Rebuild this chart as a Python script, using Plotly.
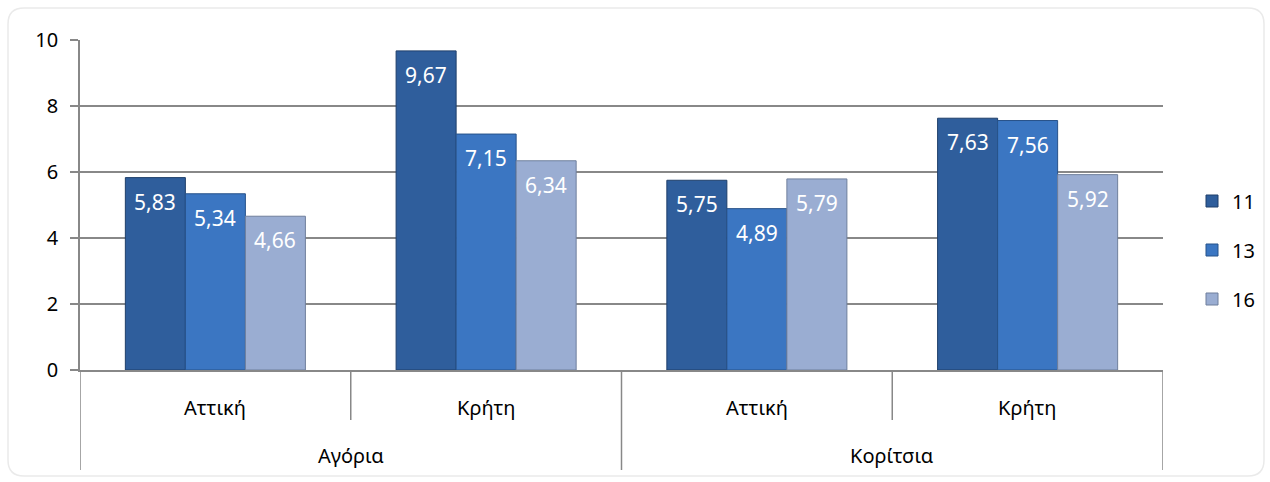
import plotly.graph_objects as go

outer = ["Αγόρια", "Αγόρια", "Κορίτσια", "Κορίτσια"]
inner = ["Αττική", "Κρήτη", "Αττική", "Κρήτη"]
series_names = ["11", "13", "16"]
values = {
    "11": [5.83, 9.67, 5.75, 7.63],
    "13": [5.34, 7.15, 4.89, 7.56],
    "16": [4.66, 6.34, 5.79, 5.92],
}
colors = {"11": "#2F5E9C", "13": "#3B76C2", "16": "#9AADD2"}
lines = {"11": "#1F3F6A", "13": "#27528A", "16": "#6F7F9C"}
y_ticks = [0, 2, 4, 6, 8, 10]

FONT = "Noto Sans"
FS = 20
FS_LBL = 21
BARGAP = 0.335
GRAY = "#888888"

fig = go.Figure()
for s in series_names:
    fig.add_trace(go.Bar(
        name=s,
        x=[outer, inner],
        y=values[s],
        marker=dict(color=colors[s], line=dict(color=lines[s], width=1)),
        legendgroup=s,
    ))

# plot area in pixels: x 80..1163, y 40..370
L, R, T, B = 80, 1163, 40, 370
W, H = 1270, 482
def px(xp):
    return (xp - L) / (R - L)
def py(yp):
    return (B - yp) / (B - T)

annotations = []
ncat = len(inner)
bw = (1 - BARGAP) / len(series_names)
# data labels
for j, s in enumerate(series_names):
    for i, v in enumerate(values[s]):
        annotations.append(dict(
            x=i + (j - (len(series_names) - 1) / 2) * bw, y=v, xref="x", yref="y",
            text=f"{v:.2f}".replace(".", ","), showarrow=False,
            yanchor="middle", yshift=-24,
            font=dict(family=FONT, size=FS_LBL, color="white"),
        ))
# inner category labels
for i, lab in enumerate(inner):
    annotations.append(dict(x=i, y=py(407), xref="x", yref="paper", text=lab,
                            showarrow=False, yanchor="middle",
                            font=dict(family=FONT, size=FS, color="black")))
# outer category labels
groups = []
for i, g in enumerate(outer):
    if not groups or groups[-1][0] != g:
        groups.append([g, i, i])
    else:
        groups[-1][2] = i
for g, a, b in groups:
    annotations.append(dict(x=(a + b) / 2, y=py(455), xref="x", yref="paper", text=g,
                            showarrow=False, yanchor="middle",
                            font=dict(family=FONT, size=FS, color="black")))

shapes = []
# boundary lines: short between inner cats, long at group edges
for k in range(ncat + 1):
    is_group_edge = k == 0 or k == ncat or outer[k] != outer[k - 1]
    shapes.append(dict(type="line", xref="x", yref="paper",
                       x0=k - 0.5, x1=k - 0.5, y0=0, y1=py(470 if is_group_edge else 420),
                       line=dict(color=GRAY, width=1.5)))

x0, x1, y0, y1, r = 8, 1264, 8, 476, 16
path = (f"M {px(x0 + r)} {py(y0)} L {px(x1 - r)} {py(y0)} "
        f"Q {px(x1)} {py(y0)} {px(x1)} {py(y0 + r)} "
        f"L {px(x1)} {py(y1 - r)} Q {px(x1)} {py(y1)} {px(x1 - r)} {py(y1)} "
        f"L {px(x0 + r)} {py(y1)} Q {px(x0)} {py(y1)} {px(x0)} {py(y1 - r)} "
        f"L {px(x0)} {py(y0 + r)} Q {px(x0)} {py(y0)} {px(x0 + r)} {py(y0)} Z")
shapes.append(dict(type="path", path=path, xref="paper", yref="paper",
                   line=dict(color="#EAEAEA", width=1.5), layer="below"))

fig.update_layout(
    width=W, height=H,
    margin=dict(l=L, r=W - R, t=T, b=H - B, pad=0, autoexpand=False),
    barmode="group",
    bargap=BARGAP,
    bargroupgap=0,
    plot_bgcolor="white",
    paper_bgcolor="white",
    font=dict(family=FONT, size=FS, color="black"),
    showlegend=True,
    legend=dict(xref="container", yref="container", x=1192 / W, y=(H - 250) / H,
                xanchor="left", yanchor="middle",
                font=dict(family=FONT, size=FS), tracegroupgap=20,
                itemwidth=30, bgcolor="rgba(0,0,0,0)"),
    shapes=shapes,
    annotations=annotations,
)
fig.update_yaxes(
    range=[0, 10], tickvals=y_ticks, showgrid=True, gridcolor=GRAY, gridwidth=1.5,
    showline=True, linecolor=GRAY, linewidth=1.5,
    ticks="outside", ticklen=8, tickcolor=GRAY, tickwidth=1.5,
    ticklabelstandoff=8,
    tickfont=dict(family=FONT, size=FS), zeroline=False,
)
fig.update_xaxes(
    type="multicategory", showline=True, linecolor=GRAY, linewidth=1.5,
    ticks="", showticklabels=False, showdividers=False, range=[-0.5, ncat - 0.5],
)
fig.write_html("out.html")
